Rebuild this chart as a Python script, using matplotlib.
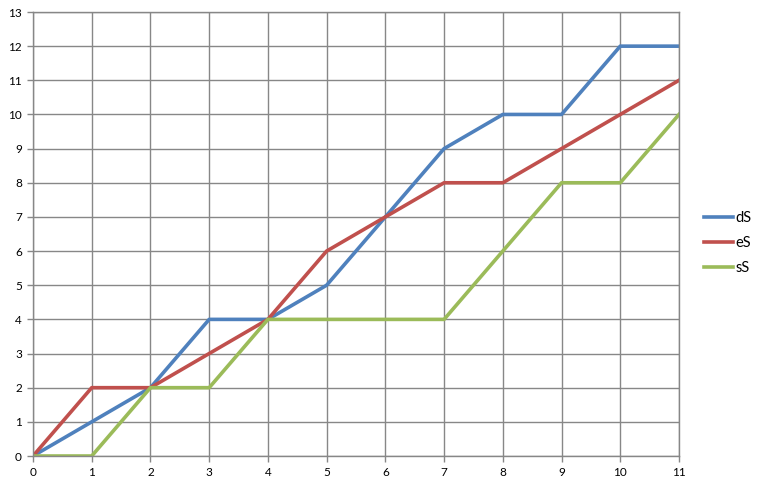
import matplotlib
matplotlib.use("Agg")
import matplotlib.pyplot as plt

# data
x = list(range(12))
dS = [0, 1, 2, 4, 4, 5, 7, 9, 10, 10, 12, 12]
eS = [0, 2, 2, 3, 4, 6, 7, 8, 8, 9, 10, 11]
sS = [0, 0, 2, 2, 4, 4, 4, 4, 6, 8, 8, 10]

plt.rcParams['font.family'] = ['Lato', 'DejaVu Sans']

W, H = 759, 486
fig = plt.figure(figsize=(W / 100, H / 100), dpi=100)
ax = fig.add_axes([33 / W, (H - 456) / H, 646 / W, 444 / H])

ax.plot(x, dS, color='#4F81BD', lw=2.6, label='dS')
ax.plot(x, eS, color='#C0504D', lw=2.6, label='eS')
ax.plot(x, sS, color='#9BBB59', lw=2.6, label='sS')

ax.set_xlim(0, 11)
ax.set_ylim(0, 13)
ax.set_xticks(range(12))
ax.set_yticks(range(14))
ax.grid(True, color='#878787', lw=1)
ax.set_axisbelow(True)
for s in ax.spines.values():
    s.set_color('#878787')
    s.set_linewidth(1)
ax.tick_params(colors='#878787', labelcolor='black', labelsize=8.5, length=4, width=1, pad=4)

fig.legend(loc='center left', bbox_to_anchor=(704 / W, 1 - 243 / H), frameon=False,
           borderaxespad=0, borderpad=0,
           fontsize=10.5, handlelength=2.0, handletextpad=0.15, labelspacing=0.75)

fig.savefig('out.png', dpi=100)
